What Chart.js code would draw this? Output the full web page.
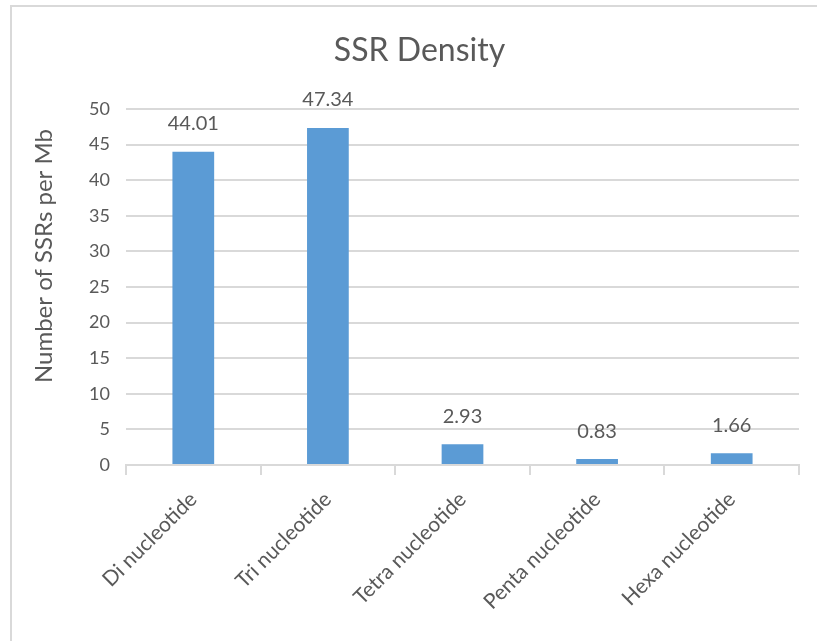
<!DOCTYPE html>
<html>
<head>
<meta charset="utf-8">
<script src="https://cdn.jsdelivr.net/npm/chart.js@4"></script>
<style>
  html, body { margin: 0; padding: 0; background: #fff; }
  #wrap { width: 817px; height: 641px; position: relative; }
</style>
</head>
<body>
<div id="wrap"><canvas id="grafico"></canvas></div>
<script>
const categorias = ["Di nucleotide", "Tri nucleotide", "Tetra nucleotide", "Penta nucleotide", "Hexa nucleotide"];
const densidad = [44.01, 47.34, 2.93, 0.83, 1.66];
const ticksY = [0, 5, 10, 15, 20, 25, 30, 35, 40, 45, 50];
const tituloY = 'Number of SSRs per Mb';

const colorTexto = '#595959';
const colorGrid = '#D9D9D9';
const fuente = 'Lato, "Open Sans", sans-serif';

// marco gris alrededor del grafico
const marco = {
    id: 'marco',
    beforeDraw(chart) {
        const c = chart.ctx;
        c.save();
        c.strokeStyle = colorGrid;
        c.lineWidth = 2;
        c.beginPath();
        c.moveTo(11, chart.height);
        c.lineTo(11, 6);
        c.lineTo(chart.width, 6);
        c.stroke();
        c.restore();
    }
};

// etiquetas de valor encima de cada barra + titulo del eje Y
const etiquetas = {
    id: 'etiquetas',
    afterDatasetsDraw(chart) {
        const c = chart.ctx;
        const meta = chart.getDatasetMeta(0);
        c.save();
        c.fillStyle = colorTexto;
        c.font = '20px ' + fuente;
        c.textAlign = 'center';
        c.textBaseline = 'bottom';
        meta.data.forEach((bar, i) => {
            c.fillText(densidad[i].toFixed(2), bar.x, bar.y - 18);
        });
        // titulo eje Y (Excel lo centra un poco mas arriba que Chart.js)
        c.translate(44, chart.chartArea.top + (chart.chartArea.bottom - chart.chartArea.top) / 2 - 31);
        c.rotate(-Math.PI / 2);
        c.font = '24px ' + fuente;
        c.textBaseline = 'middle';
        c.fillText(tituloY, 0, 0);
        c.restore();
    }
};

const ctx = document.getElementById('grafico').getContext('2d');
new Chart(ctx, {
    type: 'bar',
    data: {
        labels: categorias,
        datasets: [{
            label: 'SSR Density',
            data: densidad,
            backgroundColor: '#5B9BD5',
            borderWidth: 0,
            barPercentage: 0.31,
            categoryPercentage: 1
        }]
    },
    options: {
        responsive: true,
        maintainAspectRatio: false,
        animation: false,
        // padding izquierdo para que el titulo quede centrado como en Excel
        layout: { padding: { top: 0, right: 18, bottom: 0, left: 40 } },
        plugins: {
            legend: { display: false },
            tooltip: { enabled: false },
            title: {
                display: true,
                text: 'SSR Density',
                color: colorTexto,
                font: { family: fuente, size: 32, weight: 'normal' },
                padding: { top: 31, bottom: 39.6 }
            }
        },
        scales: {
            x: {
                grid: {
                    display: true,
                    drawOnChartArea: false,
                    drawTicks: true,
                    tickLength: 10,
                    color: colorGrid,
                    lineWidth: 2
                },
                border: { display: true, color: colorGrid, width: 2 },
                ticks: {
                    color: colorTexto,
                    font: { family: fuente, size: 21 },
                    minRotation: 45,
                    maxRotation: 45,
                    padding: 12
                },
                afterFit(scale) { scale.height = 176; }
            },
            y: {
                min: 0,
                max: 50,
                afterBuildTicks(scale) { scale.ticks = ticksY.map(v => ({ value: v })); },
                grid: { color: colorGrid, lineWidth: 2, drawTicks: false },
                border: { display: false },
                ticks: {
                    color: colorTexto,
                    font: { family: fuente, size: 18 },
                    padding: 16
                },
                afterFit(scale) { scale.width = 86; }
            }
        }
    },
    plugins: [marco, etiquetas]
});
</script>
</body>
</html>
